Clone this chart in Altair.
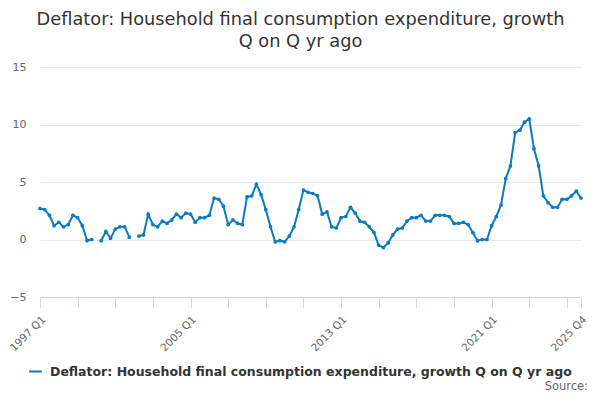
import pandas as pd
import altair as alt

# quarterly growth, Q on Q a year ago (%), 1997 Q1 .. 2025 Q4; None = no value published
years = list(range(1997, 2026))
quarters = [f"{y} Q{q}" for y in years for q in range(1, 5)]
values = [
    2.7, 2.6, 2.1, 1.2, 1.5, 1.1, 1.3, 2.1,   # 1997-1998
    1.9, 1.2, -0.1, 0.0, None, -0.1, 0.7, 0.1,  # 1999-2000
    0.9, 1.1, 1.1, 0.2, None, 0.3, 0.4, 2.2,   # 2001-2002
    1.3, 1.1, 1.6, 1.4, 1.7, 2.2, 1.9, 2.3,   # 2003-2004
    2.2, 1.5, 1.9, 1.9, 2.1, 3.6, 3.5, 2.9,   # 2005-2006
    1.3, 1.7, 1.4, 1.3, 3.7, 3.8, 4.8, 3.9,   # 2007-2008
    2.6, 1.1, -0.2, -0.1, -0.2, 0.3, 1.1, 2.6,  # 2009-2010
    4.3, 4.1, 4.0, 3.8, 2.2, 2.4, 1.1, 1.0,   # 2011-2012
    1.9, 2.0, 2.8, 2.3, 1.6, 1.5, 1.1, 0.6,   # 2013-2014
    -0.5, -0.7, -0.3, 0.4, 0.9, 1.0, 1.6, 1.9,  # 2015-2016
    1.9, 2.1, 1.6, 1.6, 2.1, 2.1, 2.1, 2.0,   # 2017-2018
    1.4, 1.4, 1.5, 1.3, 0.6, -0.1, 0.0, 0.0,   # 2019-2020
    1.2, 2.0, 3.0, 5.3, 6.4, 9.3, 9.5, 10.2,  # 2021-2022
    10.5, 7.9, 6.4, 3.8, 3.2, 2.8, 2.8, 3.5,  # 2023-2024
    3.5, 3.8, 4.2, 3.6,                       # 2025
]
tick_quarters = quarters[::8] + [quarters[-1]]
label_quarters = ["1997 Q1", "2005 Q1", "2013 Q1", "2021 Q1", "2025 Q4"]
series = "Deflator: Household final consumption expenditure, growth Q on Q yr ago"

df = pd.DataFrame({"quarter": quarters, "value": values, "series": series})

blue = "#0a7bc1"
grey = "#666666"

label_list = "[" + ",".join(f"'{q}'" for q in label_quarters) + "]"

x = alt.X(
    "quarter:O", sort=quarters, title=None,
    scale=alt.Scale(type="point", padding=0),
    axis=alt.Axis(
        values=tick_quarters, labelAngle=-45, labelAlign="right", labelBaseline="top",
        labelExpr=f"indexof({label_list}, datum.value) >= 0 ? datum.value : ''",
        labelColor=grey, labelFontSize=10.5, labelFont="DejaVu Sans", labelPadding=7,
        domainColor="#ccd6eb", tickColor="#ccd6eb", tickSize=10, grid=False,
        labelOverlap=False, labelBound=False,
    ),
)
y = alt.Y(
    "value:Q", title=None,
    scale=alt.Scale(domain=[-5, 15], nice=False),
    axis=alt.Axis(
        values=[-5, 0, 5, 10, 15], domain=False, ticks=False, labelPadding=14,
        labelColor=grey, labelFontSize=11, labelFont="DejaVu Sans",
        gridColor="#e6e6e6",
    ),
)
color = alt.Color(
    "series:N", scale=alt.Scale(range=[blue]), title=None,
    legend=alt.Legend(
        orient="none", legendX=-12, legendY=297, labelFontSize=12.5,
        labelFontWeight="bold", labelColor="#333333", labelFont="DejaVu Sans",
        labelLimit=700, symbolStrokeWidth=2, symbolSize=160, labelOffset=7,
    ),
)

line = alt.Chart(df).mark_line(strokeWidth=2, invalid="break-paths-show-domains").encode(
    x=x, y=y, color=color
)
pts = alt.Chart(df).mark_circle(size=14, opacity=1).encode(
    x=x, y=y, color=alt.Color("series:N", scale=alt.Scale(range=[blue]), legend=None)
)
source = alt.Chart(pd.DataFrame({"t": ["Source:"]})).mark_text(
    align="right", baseline="alphabetic", fontSize=11.5, color=grey, font="DejaVu Sans"
).encode(text="t:N", x=alt.value(548), y=alt.value(323))

chart = alt.layer(line, pts, source).properties(
    width=541, height=230,
    title=alt.TitleParams(
        text=["Deflator: Household final consumption expenditure, growth", "Q on Q yr ago"],
        anchor="middle", dx=-10, fontSize=17.8, fontWeight="normal", color="#333333",
        font="DejaVu Sans", offset=10, lineHeight=22,
    ),
    autosize=alt.AutoSizeParams(type="none"),
    padding={"left": 32, "top": 59, "right": 11, "bottom": 95},
).configure_view(stroke=None)

chart.save("out.html", embed_options={"renderer": "svg", "actions": False})
